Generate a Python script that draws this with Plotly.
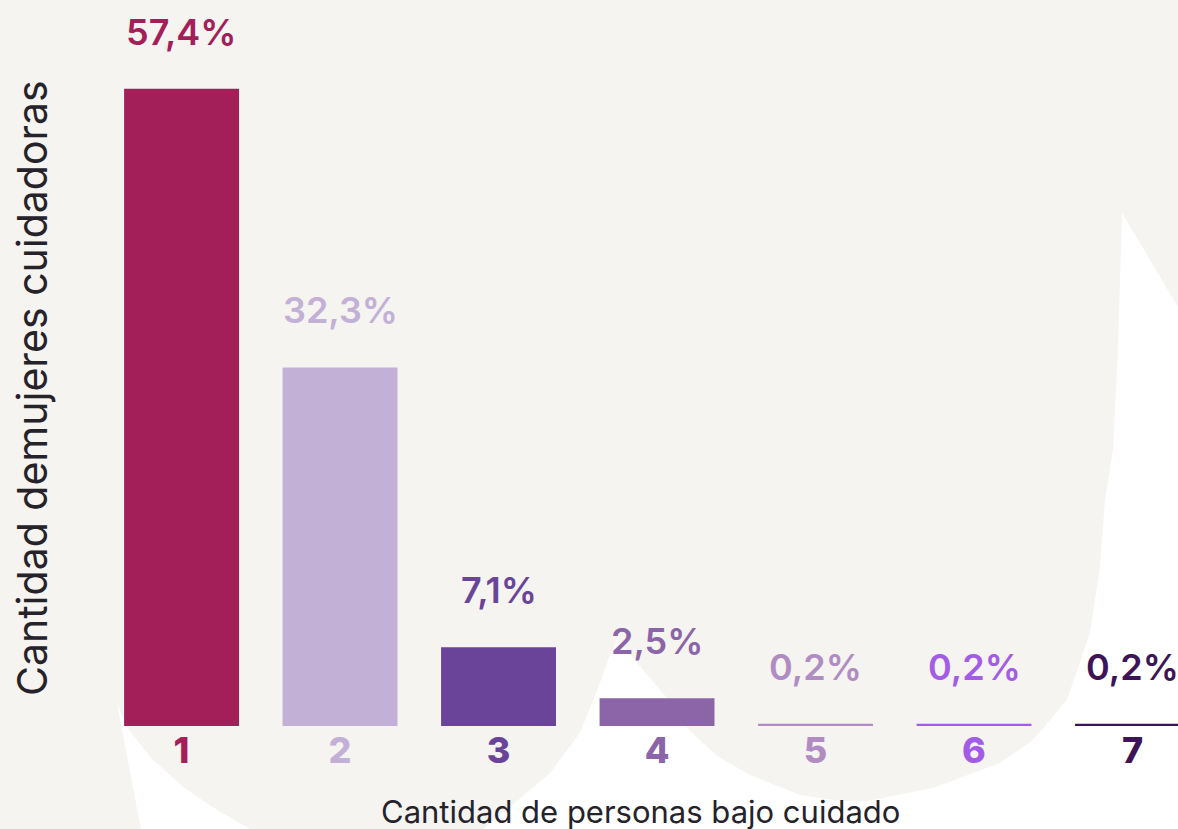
import plotly.graph_objects as go

# ---------------- data ----------------
categories = [1, 2, 3, 4, 5, 6, 7]
tick_labels = ["1", "2", "3", "4", "5", "6", "7"]
values = [57.4, 32.3, 7.1, 2.5, 0.2, 0.2, 0.2]
value_labels = ["57,4%", "32,3%", "7,1%", "2,5%", "0,2%", "0,2%", "0,2%"]
colors = ["#a21f5a", "#c2b0d6", "#6a4499", "#8c64a8", "#b08cc3", "#a35ce6", "#3d1556"]

x_title = "Cantidad de personas bajo cuidado"
y_title = "Cantidad demujeres cuidadoras"

# ---------------- layout constants ----------------
W, H = 1178, 829
ML, MR, MT, MB = 102, 0, 60, 103
PW, PH = W - ML - MR, H - MT - MB
BG = "#f5f4f0"
FONT = "Inter"
TEXT_DARK = "#25222a"


def px_to_paper(pts):
    return [((x - ML) / PW, (H - MB - y) / PH) for x, y in pts]


def path_from(pts):
    p = px_to_paper(pts)
    s = "M " + " L ".join(f"{x:.4f},{y:.4f}" for x, y in p) + " Z"
    return s


# decorative white background shapes (pixel outline of the artwork)
deco_left = [(117, 703), (127, 727), (150, 757), (183, 787), (217, 810),
             (252, 830), (260, 840), (143, 840)]
deco_right = [(478, 840), (483, 829), (510, 807), (550, 773), (580, 733),
              (600, 683), (610, 655), (617, 640), (628, 652), (645, 672),
              (667, 698), (690, 731), (717, 756), (750, 775), (800, 795),
              (840, 801), (867, 801), (933, 788), (1000, 763), (1033, 740),
              (1067, 700), (1090, 633), (1100, 567), (1105, 500), (1113, 450),
              (1118, 350), (1122, 213), (1178, 307), (1190, 320), (1190, 840)]

fig = go.Figure()

fig.add_trace(go.Bar(
    x=categories,
    y=values,
    width=0.725,
    marker=dict(color=colors, line=dict(width=0)),
    hoverinfo="skip",
))

shapes = []
for pts in (deco_left, deco_right):
    shapes.append(dict(type="path", xref="paper", yref="paper",
                       path=path_from(pts), fillcolor="#ffffff",
                       line=dict(width=0), layer="below"))

annotations = []
for c, v, lab, col in zip(categories, values, value_labels, colors):
    annotations.append(dict(
        x=c, y=v, xref="x", yref="y", text=lab, showarrow=False,
        yanchor="bottom", xanchor="center", yshift=33,
        font=dict(family=FONT, size=36, color=col, weight=600),
    ))

annotations.append(dict(
    x=(32 - ML) / PW, y=(H - MB - 388) / PH, xref="paper", yref="paper",
    text=y_title, textangle=-90, showarrow=False,
    xanchor="center", yanchor="middle",
    font=dict(family=FONT, size=41, color=TEXT_DARK, weight=400),
))
annotations.append(dict(
    x=(640 - ML) / PW, y=(H - MB - 811) / PH, xref="paper", yref="paper",
    text=x_title, showarrow=False, xanchor="center", yanchor="middle",
    font=dict(family=FONT, size=31, color=TEXT_DARK, weight=400),
))

tick_text = [f'<span style="color:{col}">{t}</span>' for t, col in zip(tick_labels, colors)]

fig.update_layout(
    width=W, height=H,
    margin=dict(l=ML, r=MR, t=MT, b=MB, pad=0),
    paper_bgcolor=BG,
    plot_bgcolor="rgba(0,0,0,0)",
    showlegend=False,
    shapes=shapes,
    annotations=annotations,
    bargap=0.2,
    xaxis=dict(
        range=[0.498, 7.287],
        tickmode="array", tickvals=categories, ticktext=tick_text,
        tickfont=dict(family=FONT, size=36, weight=800),
        showgrid=False, zeroline=False, showline=False, ticks="",
        fixedrange=True,
    ),
    yaxis=dict(
        range=[0, 60], showgrid=False, zeroline=False, showline=False,
        showticklabels=False, ticks="", fixedrange=True,
    ),
)

fig.write_html(
    "out.html",
    config={"displayModeBar": False},
    post_script="document.body.style.margin='0px';document.body.style.overflow='hidden';",
)
